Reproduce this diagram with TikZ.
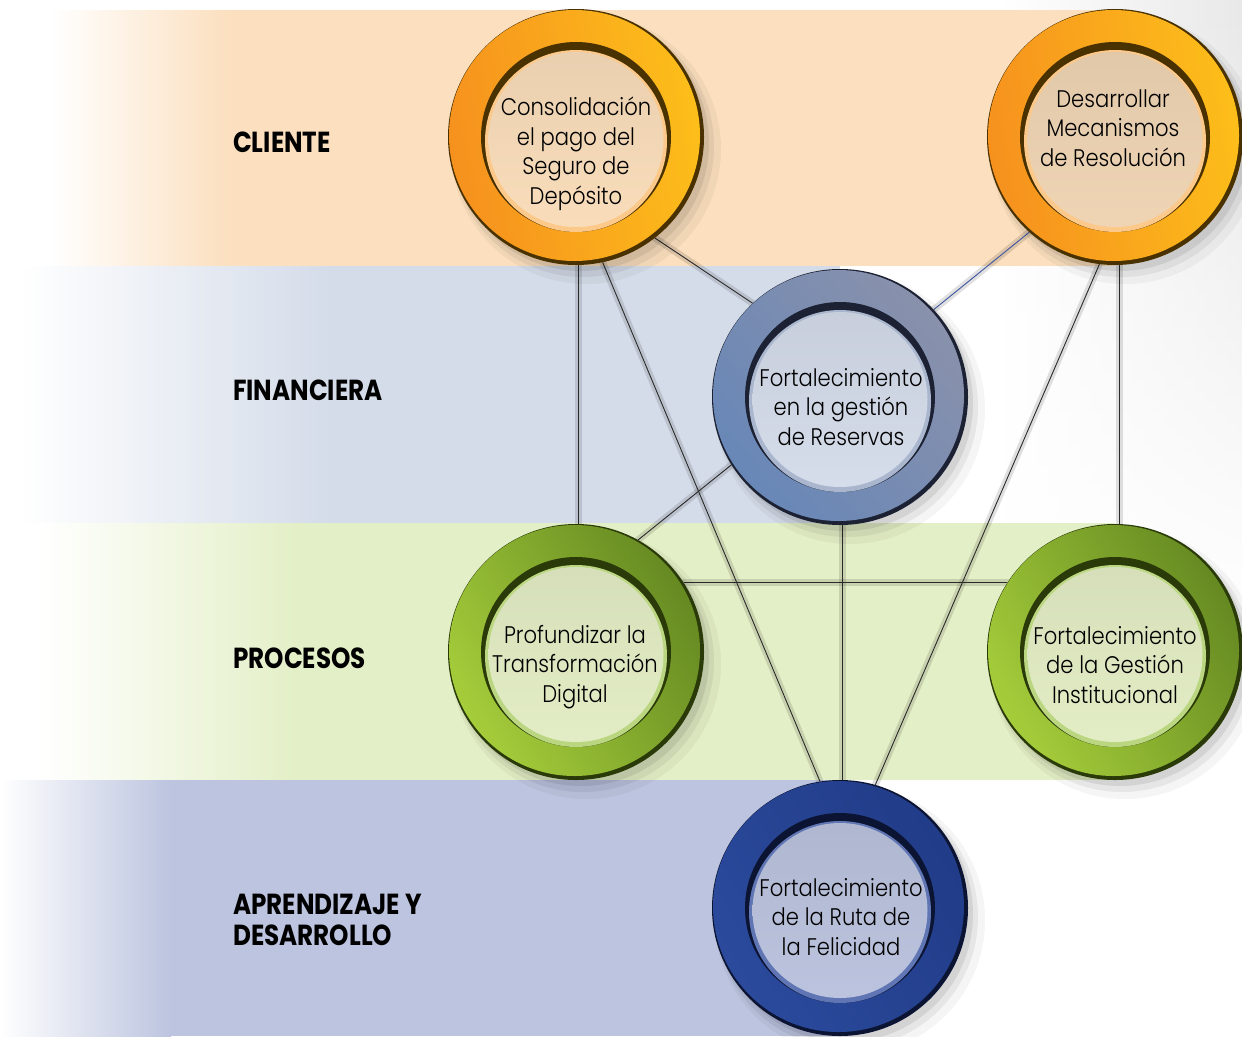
\documentclass[tikz,border=0pt]{standalone}
\usepackage{fontspec}
\setmainfont{Poppins}[FakeStretch=0.88,UprightFont=* Light]
\newfontfamily\labfont{Poppins}[FakeStretch=0.85]
\usetikzlibrary{calc,fadings}
\definecolor{bandC}{HTML}{FBDFBE}
\definecolor{bandF}{HTML}{D4DCE9}
\definecolor{bandP}{HTML}{E3EFC6}
\definecolor{bandA}{HTML}{BCC4DF}
\definecolor{orA}{HTML}{F6911E}
\definecolor{orB}{HTML}{FDBE1A}
\definecolor{orD}{HTML}{4A3100}
\definecolor{orH}{HTML}{FCC98A}
\definecolor{orI1}{HTML}{F9DDBB}
\definecolor{orI2}{HTML}{EFD5B4}
\definecolor{bgA}{HTML}{6887B7}
\definecolor{bgB}{HTML}{8991AC}
\definecolor{bgD}{HTML}{1C2233}
\definecolor{bgH}{HTML}{A9B6CE}
\definecolor{bgI}{HTML}{D5DCEA}
\definecolor{grA}{HTML}{A5CD3A}
\definecolor{grB}{HTML}{668A22}
\definecolor{grD}{HTML}{2A3A08}
\definecolor{grH}{HTML}{BBD680}
\definecolor{grI}{HTML}{E3EDC5}
\definecolor{nvA}{HTML}{2B4A9C}
\definecolor{nvB}{HTML}{213C88}
\definecolor{nvD}{HTML}{0C1433}
\definecolor{nvH}{HTML}{5F75B4}
\definecolor{nvI}{HTML}{BBC3DE}
\definecolor{lineC}{HTML}{2A2A2A}
\definecolor{lineB}{HTML}{3D55A0}
\newcommand\drawring[9]{%
  \fill[black,opacity=0.04] (#1+10,#2+12) circle (135);
  \fill[black,opacity=0.06] (#1+7,#2+9) circle (131);
  \fill[black,opacity=0.08] (#1+5,#2+6) circle (128);
  \fill[#5] (#1,#2) circle (128);
  \shade[left color=#3,right color=#4,shading angle=#9] (#1-1.5,#2-1.5) circle (125.5);
  \fill[#5] (#1,#2) circle (95);
  \fill[#6] (#1,#2+4) circle (91);
  \shade[top color=#7!94!black,bottom color=#8] (#1,#2+2.5) circle (87.5);
}
\tikzset{
  ring/.style={circle,minimum size=256pt,inner sep=0pt},
  ctext/.style={align=center,font=\fontsize{24}{29.5}\selectfont,text=black},
  lab/.style={align=left,font=\labfont\bfseries\fontsize{29}{31.5}\selectfont,text=black},
  conn/.style={draw=lineC,line width=0.9pt},
  connblue/.style={draw=lineB,line width=0.9pt},
  cshadow/.style={draw=black,opacity=0.12,line width=7pt,line cap=round},
}
\begin{document}
\begin{tikzpicture}[x=1pt,y=-1pt]
\useasboundingbox (0,0) rectangle (1242,1036);
\fill[white] (0,0) rectangle (1242,1036);
% right page shading
\shade[left color=white,right color=black!9,path fading=south] (1000,0) rectangle (1242,620);
% bands
\fill[bandC] (230,10) rectangle (1115,266);
\shade[left color=white,right color=bandC] (50,10) rectangle (231,266);
\fill[bandF] (330,266) rectangle (840,523);
\shade[left color=white,right color=bandF] (20,266) rectangle (331,523);
\fill[bandP] (300,523) rectangle (1115,780);
\shade[left color=white,right color=bandP] (40,523) rectangle (301,780);
\fill[bandA] (170,780) rectangle (840,1036);
\shade[left color=white,right color=bandA] (0,780) rectangle (171,1036);
% ring nodes
\node[ring] (c1) at (576,137) {};
\node[ring] (c2) at (1115,137) {};
\node[ring] (c3) at (840,397) {};
\node[ring] (c4) at (576,652) {};
\node[ring] (c5) at (1115,652) {};
\node[ring] (c6) at (840,908) {};
% connector shadows
\begin{scope}[shift={(-7,-10)}]
\draw[cshadow] (c1.-89) -- (c4.89);
\draw[cshadow] (c1.-78) -- (c6.99);
\draw[cshadow] (c1.-52) -- (c3.133);
\draw[cshadow] (c2.228) -- (c3.43);
\draw[cshadow] (c2.-97) -- (c6.74);
\draw[cshadow] (c2.-88) -- (c5.88);
\draw[cshadow] (c3.212) -- (c4.61);
\draw[cshadow] (c3.-89) -- (c6.89);
\draw[cshadow] (c4.33) -- (c5.147);
\end{scope}
% connectors
\draw[conn] (c1.-89) -- (c4.89);
\draw[conn] (c1.-78) -- (c6.99);
\draw[conn] (c1.-52) -- (c3.133);
\draw[connblue] (c2.228) -- (c3.43);
\draw[conn] (c2.-97) -- (c6.74);
\draw[conn] (c2.-88) -- (c5.88);
\draw[conn] (c3.212) -- (c4.61);
\draw[conn] (c3.-89) -- (c6.89);
\draw[conn] (c4.33) -- (c5.147);
% rings
\drawring{576}{137}{orA}{orB}{orD}{orH}{orI1}{orI1}{100}
\drawring{1115}{137}{orA}{orB}{orD}{orH}{orI2}{orI2}{100}
\drawring{840}{397}{bgA}{bgB}{bgD}{bgH}{bgI}{bgI}{130}
\drawring{576}{652}{grA}{grB}{grD}{grH}{grI}{grI}{120}
\drawring{1115}{652}{grA}{grB}{grD}{grH}{grI}{grI}{120}
\drawring{840}{908}{nvA}{nvB}{nvD}{nvH}{nvI}{nvI}{120}
% ring texts
\node[ctext] (t1) at (576,154) {Consolidación\\el pago del\\Seguro de\\Depósito};
\node[ctext] (t2) at (1113,128) {Desarrollar\\Mecanismos\\de Resolución};
\node[ctext] (t3) at (841,407) {Fortalecimiento\\en la gestión\\de Reservas};
\node[ctext] (t4) at (575,667) {Profundizar la\\Transformación\\Digital};
\node[ctext] (t5) at (1115,665) {Fortalecimiento\\de la Gestión\\Institucional};
\node[ctext] (t6) at (841,917) {Fortalecimiento\\de la Ruta de\\la Felicidad};
% labels
\node[lab,anchor=base west,inner sep=0pt] (l1) at (233,152) {CLIENTE};
\node[lab,anchor=base west,inner sep=0pt] (l2) at (233,400) {FINANCIERA};
\node[lab,anchor=base west,inner sep=0pt] (l3) at (233,668) {PROCESOS};
\node[lab,anchor=west,inner sep=0pt] (l4) at (233,920) {APRENDIZAJE Y\\DESARROLLO};
\end{tikzpicture}
\end{document}
